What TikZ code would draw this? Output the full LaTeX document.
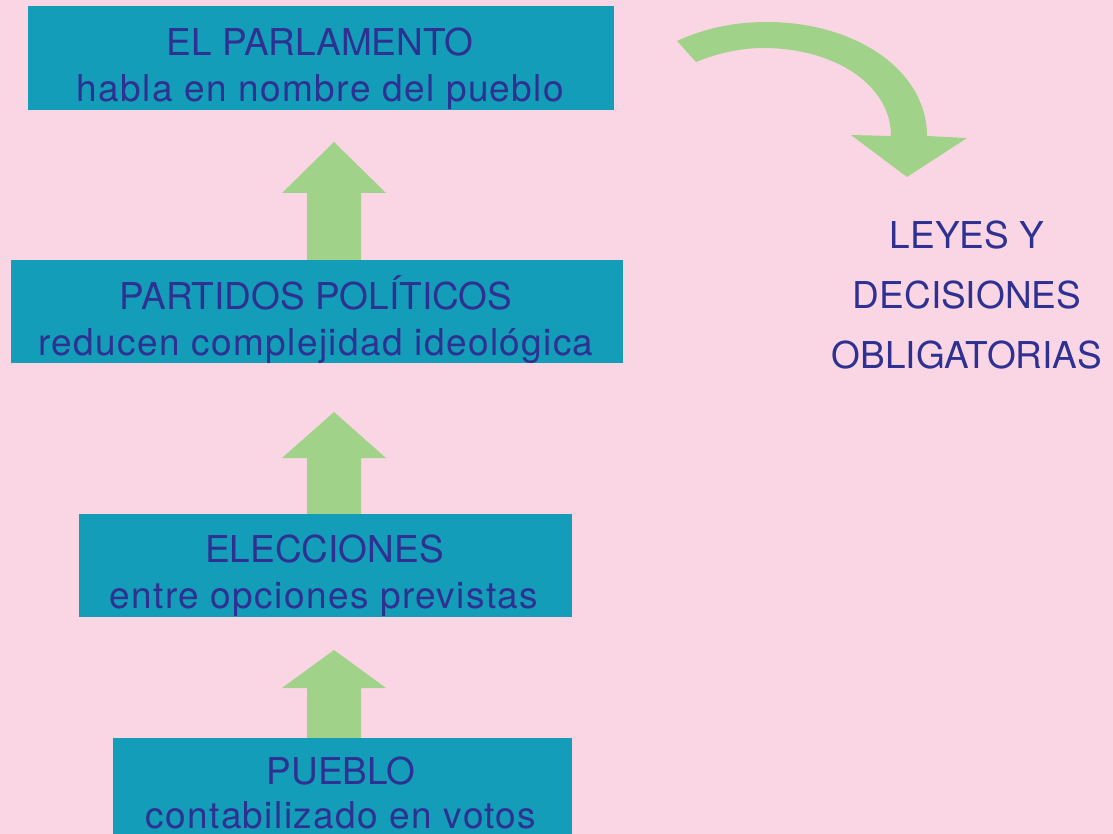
\documentclass[tikz,border=0pt]{standalone}
\usepackage{fontspec}
\setmainfont{TeX Gyre Heros}
\definecolor{bg}{HTML}{FAD6E4}
\definecolor{boxc}{HTML}{139DB9}
\definecolor{txt}{HTML}{2E3192}
\definecolor{grn}{HTML}{A1D28A}
\begin{document}
\begin{tikzpicture}[x=1pt,y=-1pt,
  box/.style={fill=boxc,draw=none,inner sep=0pt},
  captxt/.style={text=txt,font=\fontsize{37}{46}\selectfont,anchor=base,inner sep=0pt},
  lowtxt/.style={text=txt,font=\fontsize{37}{46}\selectfont\addfontfeatures{LetterSpace=3.7},anchor=base,inner sep=0pt},
  upar/.style={fill=grn,draw=none}]
\useasboundingbox (0,0) rectangle (1113,834);
\fill[bg] (0,0) rectangle (1113,834);
% boxes
\node[box,minimum width=586,minimum height=104] (b1) at (321,58) {};
\node[box,minimum width=612,minimum height=103] (b2) at (317,311.5) {};
\node[box,minimum width=493,minimum height=103] (b3) at (325.5,565.5) {};
\node[box,minimum width=459,minimum height=96] (b4) at (342.5,786) {};
\node[captxt] (t1a) at (320,56) {EL PARLAMENTO};
\node[lowtxt] (t1b) at (320.5,102) {habla en nombre del pueblo};
\node[captxt] (t2a) at (316,309) {PARTIDOS POLÍTICOS};
\node[lowtxt] (t2b) at (316,355) {reducen complejidad ideológica};
\node[captxt] (t3a) at (324.5,562) {ELECCIONES};
\node[lowtxt] (t3b) at (324,608) {entre opciones previstas};
\node[captxt] (t4a) at (341,784) {PUEBLO};
\node[lowtxt] (t4b) at (341,828) {contabilizado en votos};
\node[captxt] (l1) at (967,249) {LEYES Y};
\node[captxt] (l2) at (967,308) {DECISIONES};
\node[captxt] (l3) at (967,368) {OBLIGATORIAS};
% up arrows
\fill[upar] (b2.north -| 307,0) -- (307,193) -- (282,193) -- (334,142) -- (386,193) -- (361,193) -- (b2.north -| 361,0) -- cycle;
\fill[upar] (b3.north -| 307,0) -- (307,458) -- (282,458) -- (334,412) -- (386,458) -- (361,458) -- (b3.north -| 361,0) -- cycle;
\fill[upar] (b4.north -| 307,0) -- (307,688) -- (282,688) -- (334,650) -- (386,688) -- (361,688) -- (b4.north -| 361,0) -- cycle;
% curved arrow
\fill[grn] (677,41) .. controls (705,28) and (735,22) .. (767,22)
  .. controls (855,22) and (927,70) .. (927,136)
  -- (967,138) -- (907,177) -- (851,135) -- (891,136)
  .. controls (891,85) and (835,48) .. (763,48)
  .. controls (740,48) and (715,54) .. (696,62) -- cycle;
\end{tikzpicture}
\end{document}
